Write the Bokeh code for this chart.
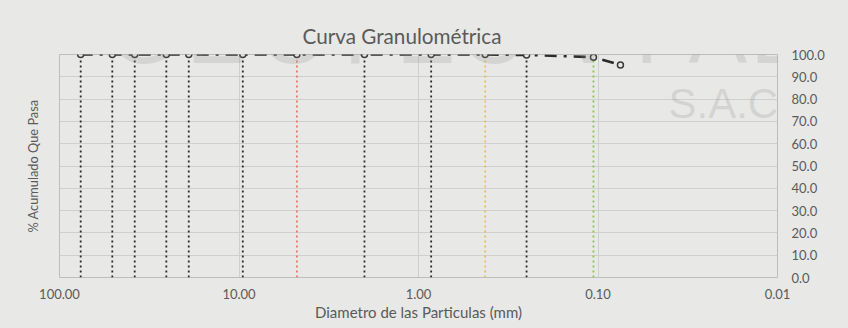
from bokeh.plotting import figure
from bokeh.models import Range1d, FixedTicker, ColumnDataSource, LinearAxis, Label
from bokeh.embed import file_html
from bokeh.resources import INLINE

# sieve openings (mm) and cumulative % passing
sieve_mm = [76.2, 50.8, 38.1, 25.4, 19.05, 9.525, 4.76, 2.0, 0.85, 0.425, 0.25, 0.106, 0.075]
passing = [100.0, 100.0, 100.0, 100.0, 100.0, 100.0, 100.0, 100.0, 100.0, 100.0, 99.8, 98.8, 95.3]
# vertical reference lines (all sieves but the last one)
ref_mm = [76.2, 50.8, 38.1, 25.4, 19.05, 9.525, 4.76, 2.0, 0.85, 0.425, 0.25, 0.106]
ref_top = [100.0, 100.0, 100.0, 100.0, 100.0, 100.0, 100.0, 100.0, 100.0, 100.0, 99.8, 98.8]
ref_color = ["#2a2a2a"] * 6 + ["#e47a68"] + ["#2a2a2a"] * 2 + ["#e6c15a"] + ["#2a2a2a"] + ["#8fbf5a"]

x_ticks = [100, 10, 1, 0.1, 0.01]
x_tick_labels = ["100.00", "10.00", "1.00", "0.10", "0.01"]
y_ticks = [0, 10, 20, 30, 40, 50, 60, 70, 80, 90, 100]

BG = "#e8e8e6"
TXT = "#5a5a5a"
FONT = "Lato"

p = figure(width=848, height=328, x_axis_type="log",
           x_range=Range1d(100, 0.01), y_range=Range1d(0, 100),
           output_backend="svg", toolbar_location=None,
           y_axis_location="right",
           min_border_left=59, min_border_right=71, min_border_top=54, min_border_bottom=51)

p.background_fill_color = BG
p.border_fill_color = BG
p.outline_line_color = "#bdbdbd"
p.outline_line_width = 1

# title
p.title.text = "Curva Granulométrica"
p.title.align = "left"
p.title.offset = 243
p.title.standoff = 14
p.title.text_font = FONT
p.title.text_font_size = "20.7px"
p.title.text_font_style = "normal"
p.title.text_color = TXT

# x axis
xa = p.xaxis[0]
xa.ticker = FixedTicker(ticks=x_ticks)
xa.major_label_overrides = {t: l for t, l in zip(x_ticks, x_tick_labels)}
xa.minor_tick_line_color = None
xa.major_tick_line_color = None
xa.axis_line_color = None
xa.major_label_standoff = 5
xa.major_label_text_font = FONT
xa.major_label_text_font_size = "13px"
xa.major_label_text_color = TXT
xa.axis_label = "Diametro de las Particulas (mm)"
xa.axis_label_text_font = FONT
xa.axis_label_text_font_size = "15px"
xa.axis_label_text_font_style = "normal"
xa.axis_label_text_color = TXT
xa.axis_label_standoff = 1

# y axis (right)
ya = p.yaxis[0]
ya.ticker = FixedTicker(ticks=y_ticks)
ya.major_label_overrides = {t: f"{t:.1f}" for t in y_ticks}
ya.minor_tick_line_color = None
ya.major_tick_line_color = None
ya.axis_line_color = None
ya.major_label_standoff = 8
ya.major_label_text_font = FONT
ya.major_label_text_font_size = "13px"
ya.major_label_text_color = TXT

# left axis carries only the y title
la = LinearAxis(axis_label="% Acumulado Que Pasa", ticker=FixedTicker(ticks=[]))
la.major_label_text_font_size = "0px"
la.major_tick_line_color = None
la.minor_tick_line_color = None
la.axis_line_color = None
la.axis_label_text_font = FONT
la.axis_label_text_font_size = "12.8px"
la.axis_label_text_font_style = "normal"
la.axis_label_text_color = TXT
la.axis_label_standoff = 19
p.add_layout(la, "left")

p.xgrid.ticker = FixedTicker(ticks=x_ticks)
p.xgrid.grid_line_color = "#cfcfcf"
p.ygrid.ticker = FixedTicker(ticks=y_ticks)
p.ygrid.grid_line_color = "#cfcfcf"

# faint letterhead watermark of the scan (only the part inside the plot area shows)
wm_letters = ["G", "E", "O", "T", "E", "C", "V", "I", "A", "L"]
wm_x = [50, 127, 200, 269, 337, 401, 499, 575, 629, 691]
for ch, x in zip(wm_letters, wm_x):
    p.add_layout(Label(x=x, y=245, x_units="screen", y_units="screen", text=ch,
                       text_font="Liberation Sans", text_font_size="88px",
                       text_baseline="alphabetic", text_color="#8c8c8c", text_alpha=0.22))
p.add_layout(Label(x=609, y=174, x_units="screen", y_units="screen", text="S.A.C",
                   text_font="Liberation Sans", text_font_size="42px",
                   text_baseline="alphabetic", text_color="#8c8c8c", text_alpha=0.22))

ref = ColumnDataSource(dict(x=ref_mm, y0=[0] * len(ref_mm), y1=ref_top, c=ref_color))
p.segment(x0="x", y0="y0", x1="x", y1="y1", source=ref, line_color="c",
          line_width=1.8, line_dash="2 3")

p.line(sieve_mm, passing, line_color="#2b2b2b", line_width=2.6, line_dash="12 7 3 7")
p.scatter(sieve_mm, passing, marker="circle", size=6, fill_color="#e8e8e6",
          line_color="#3a3a3a", line_width=1.5)

html = file_html(p, INLINE)
html = html.replace("<head>", "<head><style>html{background:%s;}body{margin:0;}</style>" % BG, 1)
open("out.html", "w").write(html)
